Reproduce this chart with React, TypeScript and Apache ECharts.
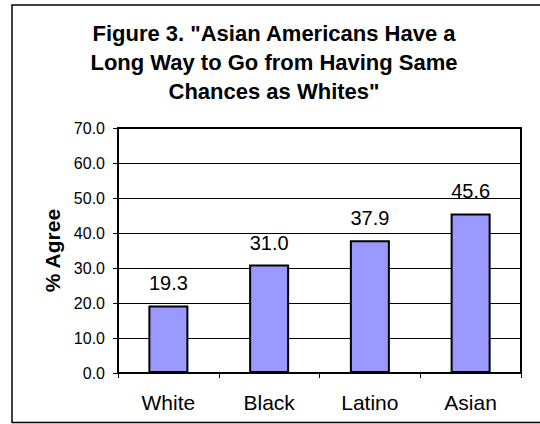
import React, { useEffect, useRef } from "react";
import * as echarts from "echarts";

const categories: string[] = ["White", "Black", "Latino", "Asian"];
const agreeValues: number[] = [19.3, 31.0, 37.9, 45.6];
const titleLines: string[] = [
  'Figure 3. "Asian Americans Have a',
  'Long Way to Go from Having Same',
  'Chances as Whites"',
];
const yAxisName = "% Agree";

const FONT = '"Liberation Sans", Arial, sans-serif';

export default function App() {
  const ref = useRef<HTMLDivElement>(null);
  useEffect(() => {
    if (!ref.current) return;
    const chart = echarts.init(ref.current, null, { renderer: "svg" });
    chart.setOption({
      animation: false,
      backgroundColor: "#ffffff",
      title: {
        text: titleLines.join("\n"),
        left: 274,
        top: 19,
        padding: 0,
        textAlign: "center",
        textStyle: {
          fontFamily: FONT,
          fontSize: 22,
          fontWeight: "bold",
          color: "#000",
          lineHeight: 29,
        },
      },
      graphic: [
        {
          type: "rect",
          shape: { x: 12, y: 5, width: 600, height: 417.5 },
          style: { fill: "none", stroke: "#000", lineWidth: 1.5 },
          silent: true,
        },
      ],
      grid: {
        left: 118,
        right: 19,
        top: 128,
        bottom: 51,
        show: true,
        borderColor: "#000",
        borderWidth: 2,
        backgroundColor: "transparent",
      },
      xAxis: {
        type: "category",
        data: categories,
        axisLine: { show: true, lineStyle: { color: "#000", width: 2 } },
        axisTick: { show: true, length: 5, lineStyle: { color: "#000", width: 1 } },
        axisLabel: {
          color: "#000",
          fontFamily: FONT,
          fontSize: 21,
          margin: 19,
        },
        splitLine: { show: false },
      },
      yAxis: {
        type: "value",
        min: 0,
        max: 70,
        interval: 10,
        name: yAxisName,
        nameLocation: "middle",
        nameGap: 55,
        nameTextStyle: {
          fontFamily: FONT,
          fontSize: 21,
          fontWeight: "bold",
          color: "#000",
        },
        axisLine: { show: true, lineStyle: { color: "#000", width: 2 } },
        axisTick: { show: true, length: 5, lineStyle: { color: "#000", width: 1 } },
        axisLabel: {
          color: "#000",
          fontFamily: FONT,
          fontSize: 16,
          margin: 13,
          formatter: (v: number) => v.toFixed(1),
        },
        splitLine: { show: true, lineStyle: { color: "#000", width: 1 } },
      },
      series: [
        {
          type: "bar",
          data: agreeValues,
          barWidth: 40,
          itemStyle: { color: "#9999FF", borderColor: "#000", borderWidth: 2 },
          label: {
            show: true,
            position: "top",
            distance: 12,
            color: "#000",
            fontFamily: FONT,
            fontSize: 20,
            formatter: (p: any) => Number(p.value).toFixed(1),
          },
        },
      ],
    });
    return () => chart.dispose();
  }, []);
  return (
    <div
      ref={ref}
      style={{ position: "fixed", left: 0, top: 0, width: 540, height: 424 }}
    />
  );
}
